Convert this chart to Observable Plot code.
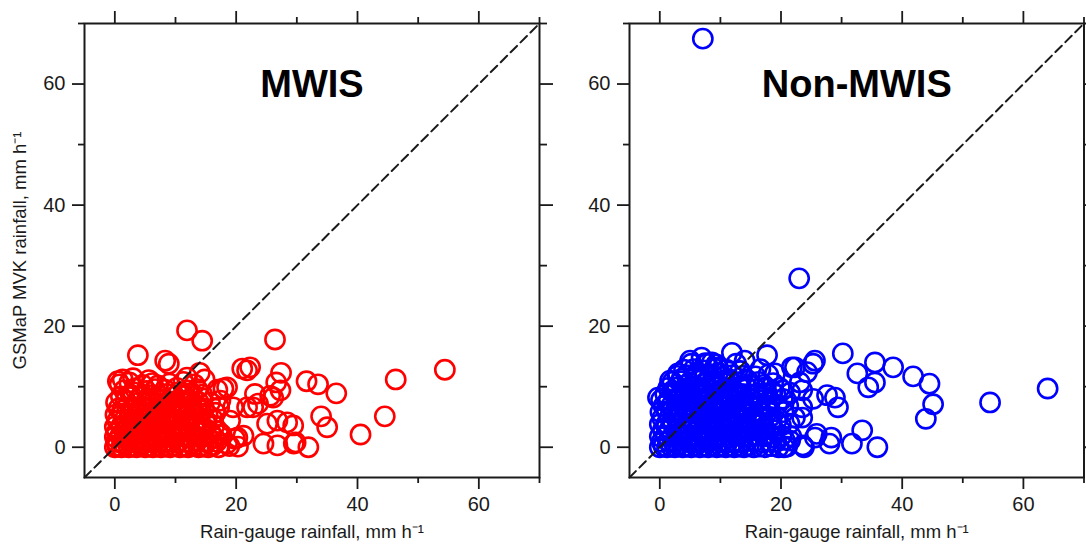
<!DOCTYPE html>
<html>
<head>
<meta charset="utf-8">
<script src="https://cdn.jsdelivr.net/npm/d3@7"></script>
<script src="https://cdn.jsdelivr.net/npm/@observablehq/plot@0.6"></script>
<style>
  html, body { margin: 0; padding: 0; background: #fff; }
  #wrap { display: flex; width: 1086px; height: 550px; overflow: hidden; }
</style>
</head>
<body>
<div id="wrap"></div>
<script>
// Axis limits and ticks
const axisLimits = [-5, 70];
const majorTicks = [0, 20, 40, 60];
const minorTicks = [10, 30, 50, 70];

const panelTitles = ["MWIS", "Non-MWIS"];
const xLabel = "Rain-gauge rainfall, mm h\u207B\u00B9";
const yLabel = "GSMaP MVK rainfall, mm h\u207B\u00B9";

// MWIS: [rain-gauge, GSMaP]
const mwis = [
  [11.9,19.3],[14.4,17.6],[3.8,15.2],[8.3,14.3],[8.9,13.8],[26.4,17.8],[46.3,11.2],[54.4,12.8],
  [44.5,5.1],[40.5,2.1],[36.5,8.9],[33.5,10.4],[31.6,10.9],[34.0,5.1],[35.0,3.3],[31.9,0.0],
  [29.5,0.6],[27.4,12.3],[26.6,10.7],[26.1,8.2],[21.8,12.7],[22.3,13.2],[22.8,6.6],[23.6,7.2],
  [25.1,3.9],[26.8,4.4],[28.4,4.1],[29.4,3.6],[24.5,0.6],[26.8,0.3],[29.8,0.8],[19.8,1.4],
  [21.2,1.9],[18.5,9.9],[19.5,6.6],[17.4,7.7],[27.3,9.4],[25.6,8.5],[17.9,9.7],[21.0,13.0],
  [23.1,8.8],[21.8,6.6],[20.2,1.6],[18.5,0.6],[19.0,4.4],
  [0,0],[0.4,0.2],[1.1,0],[1.7,0.3],[2.3,0],[3,0.1],[3.6,0],[4.3,0.2],[5,0],[5.6,0.1],[6.3,0],[7,0.3],
  [7.6,0],[8.4,0.1],[9.1,0],[9.9,0.2],[10.7,0],[11.4,0.1],[12.1,0],[12.9,0.2],[13.8,0],[14.6,0.1],
  [15.4,0],[16.2,0.3],[17.1,0],[18.9,0.2],[20.3,0.1],
  [0.2,0.9],[1.2,0.7],[2.3,1],[3.2,0.8],[4.2,0.6],[5.1,1.1],[6.4,0.8],[7.3,0.9],[8.1,0.7],[9.4,1],
  [10.5,0.8],[11.8,0.9],[12.7,0.6],[13.6,1.1],[15.1,0.8],[16.8,0.9],
  [0,1.7],[0.9,1.9],[1.8,1.6],[2.7,1.8],[3.8,1.5],[4.6,2],[5.8,1.7],[6.7,1.6],[7.6,1.9],[8.7,1.7],
  [9.8,1.5],[11,1.8],[12,1.7],[13.1,2],[14.2,1.6],[15.3,1.8],[16.5,1.5],[17.6,2.1],
  [0.3,2.5],[1.5,2.7],[2.4,2.4],[3.4,2.8],[4.4,2.6],[5.3,2.5],[6.2,2.9],[7.3,2.6],[8.4,2.4],[9.5,2.7],
  [10.4,2.6],[11.4,2.8],[12.5,2.5],[13.4,2.6],[14.6,2.9],[15.8,2.4],[17,2.7],
  [0,3.4],[1.1,3.6],[2.2,3.3],[3.1,3.7],[4.2,3.5],[5.4,3.4],[6.5,3.6],[7.6,3.3],[8.6,3.7],[9.7,3.5],
  [10.9,3.4],[12.2,3.6],[13.3,3.5],[14.3,3.3],[15.1,3.8],[16.4,3.5],
  [0.4,4.4],[1.6,4.6],[2.9,4.3],[4,4.7],[5,4.5],[6.1,4.4],[7.1,4.6],[8.1,4.3],[9.3,4.8],[10.5,4.5],
  [11.6,4.4],[12.6,4.7],[13.8,4.5],[15,4.3],[16.2,4.6],
  [0.1,5.4],[1.3,5.6],[2.5,5.3],[3.7,5.7],[4.8,5.5],[5.9,5.4],[7,5.7],[8.3,5.3],[9.4,5.6],[10.4,5.5],
  [11.5,5.8],[12.8,5.4],[13.9,5.6],[15.3,5.3],[16.6,5.7],
  [0.6,6.4],[2,6.6],[3.2,6.3],[4.6,6.7],[5.6,6.5],[6.8,6.4],[7.9,6.8],[9,6.5],[10.2,6.3],[11.3,6.6],
  [12.4,6.5],[13.6,6.8],[14.7,6.4],[17.2,6.6],
  [0.2,7.4],[1.8,7.7],[3.5,7.3],[5.2,7.6],[6.3,7.5],[7.5,7.8],[8.8,7.4],[10,7.6],[11.2,7.3],[12.6,7.7],
  [13.8,7.5],[15.7,7.4],
  [1,8.4],[2.6,8.7],[4.3,8.3],[6,8.6],[7.4,8.5],[8.6,8.8],[9.9,8.4],[11.4,8.6],[12.8,8.3],[14.4,8.7],
  [1.5,9.4],[3.3,9.7],[5.2,9.3],[6.6,9.6],[8.3,9.5],[10.2,9.8],[12,9.4],[13.6,9.6],[16.9,9.5],
  [0.8,10.4],[2.4,10.7],[4.6,10.3],[6.2,10.6],[9,10.5],[11.3,10.8],[13.1,10.4],
  [1.3,11.2],[3,11.4],[5.6,11.1],[11.9,11.5],[14,12.3],[14.8,11.2],
  [2,3.1],[6.8,1.2],[9,2.2],[11,3],[4,6.1],[7.2,6.2],[10.3,7.1],[13.1,4.1],[3,9.1],[7.1,10.2],
  [10.6,9.1],[1.2,6.1],[0.5,10.9],[5.5,8.1],[12.2,8.9],[8.2,4.9],[14.2,6.1],[3.6,2.1],[11.7,5.1]
];

// Non-MWIS: [rain-gauge, GSMaP]
const nonMwis = [
  [7.1,67.5],[23.0,27.9],[64.0,9.7],[54.5,7.4],[45.1,7.1],[43.9,4.7],[44.5,10.5],[41.8,11.7],
  [38.5,13.2],[35.5,14.0],[32.6,12.2],[30.2,15.5],[35.5,10.7],[34.4,9.9],[35.9,0.0],[31.7,0.6],
  [33.4,2.8],[28.0,0.6],[28.3,1.6],[29.4,6.6],[28.9,8.2],[27.6,8.6],[25.3,13.8],[25.6,14.3],
  [24.3,12.4],[23.8,0.0],[25.6,1.6],[25.9,2.2],[23.6,0.3],[22.3,13.2],[6.9,14.8],[11.9,15.6],
  [17.7,15.2],[14.0,14.3],[8.6,14.0],[7.8,13.8],[5.0,14.3],[9.6,13.2],[21.8,13.2],[19.0,12.2],
  [20.2,9.4],[23.5,9.4],[23.5,6.6],[1.7,11.0],[-0.3,8.2],[3.0,12.2],[23.1,10.7],[25.3,8.0],
  [23.5,4.9],[21.5,1.1],[20.5,0.0],
  [0,0],[0.6,0.2],[1.2,0],[1.9,0.1],[2.5,0],[3.1,0.3],[3.8,0],[4.5,0.1],[5.2,0],[5.9,0.2],[6.6,0],
  [7.3,0.1],[8,0],[8.7,0.3],[9.4,0],[10.1,0.1],[10.9,0],[11.6,0.2],[12.3,0],[13.1,0.1],[13.9,0],
  [14.7,0.3],[15.5,0],[16.4,0.1],[17.3,0],[18.4,0.2],[19.6,0],[21,0.1],
  [0.3,0.9],[1.4,1],[2.4,0.8],[3.5,1.1],[4.6,0.9],[5.7,0.8],[6.8,1],[7.9,0.9],[9,1.1],[10.1,0.8],
  [11.2,0.9],[12.3,1],[13.4,0.8],[14.5,1.1],[15.6,0.9],[16.8,0.8],[18,1],[19.2,0.9],[20.6,1.2],
  [0,1.8],[1,1.9],[2,1.7],[3,2],[4.1,1.8],[5.1,1.6],[6.2,1.9],[7.2,1.8],[8.3,1.7],[9.4,2],[10.4,1.8],
  [11.5,1.6],[12.6,1.9],[13.7,1.8],[14.9,1.7],[16,2],[17.3,1.8],[18.6,1.6],[20.1,1.9],[21.7,1.8],
  [0.5,2.8],[1.6,2.9],[2.7,2.7],[3.8,3],[4.9,2.8],[6,2.6],[7.1,2.9],[8.2,2.8],[9.3,2.7],[10.3,3],
  [11.4,2.8],[12.5,2.6],[13.6,2.9],[14.8,2.8],[16.1,2.7],[17.4,3],[18.9,2.8],
  [0,3.8],[1.1,3.9],[2.2,3.7],[3.3,4],[4.4,3.8],[5.5,3.6],[6.6,3.9],[7.7,3.8],[8.8,3.7],[9.9,4],
  [11,3.8],[12.1,3.6],[13.2,3.9],[14.4,3.8],[15.7,3.7],[17,4],[18.4,3.8],[20,3.6],[21.4,3.9],
  [0.4,4.8],[1.6,4.9],[2.8,4.7],[3.9,5],[5,4.8],[6.2,4.6],[7.3,4.9],[8.4,4.8],[9.6,4.7],[10.7,5],
  [11.8,4.8],[13,4.6],[14.2,4.9],[15.5,4.8],[16.8,4.7],[18.2,5],[19.5,4.8],[22.3,4.9],
  [0.1,5.8],[1.2,5.9],[2.4,5.7],[3.6,6],[4.7,5.8],[5.9,5.6],[7,5.9],[8.2,5.8],[9.3,5.7],[10.5,6],
  [11.6,5.8],[12.8,5.6],[14,5.9],[15.3,5.8],[16.7,5.7],[18,6],[20.4,5.8],
  [0.6,6.8],[1.9,6.9],[3.1,6.7],[4.3,7],[5.5,6.8],[6.7,6.6],[7.9,6.9],[9.1,6.8],[10.3,6.7],[11.5,7],
  [12.7,6.8],[13.9,6.6],[15.1,6.9],[16.5,6.8],[17.9,6.7],[19.4,7],[21.2,6.8],
  [0.2,7.8],[1.5,7.9],[2.8,7.7],[4.1,8],[5.3,7.8],[6.5,7.6],[7.7,7.9],[8.9,7.8],[10.1,7.7],[11.3,8],
  [12.5,7.8],[13.7,7.6],[15,7.9],[16.4,7.8],[18.2,7.7],[20.3,8],
  [0.9,8.8],[2.3,8.9],[3.6,8.7],[4.9,9],[6.1,8.8],[7.4,8.6],[8.6,8.9],[9.8,8.8],[11,8.7],[12.3,9],
  [13.5,8.8],[14.8,8.6],[16.2,8.9],[17.7,8.8],[19.1,8.7],[21.5,9],
  [1.4,9.8],[2.9,9.9],[4.2,9.7],[5.5,10],[6.8,9.8],[8,9.6],[9.3,9.9],[10.6,9.8],[11.8,9.7],[13.1,10],
  [14.4,9.8],[15.9,9.6],[17.5,9.9],[19.8,9.8],
  [2.1,10.8],[3.5,10.9],[4.9,10.7],[6.2,11],[7.6,10.8],[8.9,10.6],[10.3,10.9],[11.6,10.8],[13,10.7],
  [14.6,11],[16.3,10.8],[18.7,10.6],
  [2.9,11.8],[4.4,11.9],[5.9,11.7],[7.3,12],[8.8,11.8],[10.4,11.6],[12,11.9],[13.7,11.8],[15.8,11.7],
  [17.9,12],
  [4,12.8],[5.6,12.9],[7.2,12.7],[9,13],[11,12.8],[13.3,12.6],[16.6,12.9],
  [5.2,13.8],[7.5,13.9],[9.3,13.7],[12.6,13.8],
  [1.1,3.3],[3.4,2.3],[5.6,3.2],[7.8,2.2],[9.9,3.4],[12,2.3],[14.2,3.3],[2.3,5.3],[4.5,6.4],[6.8,5.2],
  [8.9,6.3],[11.1,5.3],[13.4,6.2],[15.6,5.2],[1.2,7.3],[3.4,8.3],[5.8,7.2],[8.1,8.3],[10.4,7.2],
  [12.8,8.3],[14.9,7.3],[2.1,9.3],[4.5,10.3],[7,9.3],[9.5,10.4],[12.1,9.3],[14.8,10.3],[6.1,12.3],
  [9.6,12.3],[11.5,11.2],[3.6,11.3],[16.9,8.2],[17.1,10.3],[16,4.3],[17.6,6.3],[18.6,9.2]
];

const FONT = "'Liberation Sans', Arial, Helvetica, sans-serif";
const INK = "#1a1a1a";

function panel({data, color, title, width, marginLeft, marginRight, showYLabel}) {
  const marks = [
    Plot.dot(data, {x: d => d[0], y: d => d[1], r: 9.6, stroke: color, strokeWidth: 2.6, fill: "none"}),
    Plot.line(axisLimits, {x: d => d, y: d => d, stroke: INK, strokeWidth: 2, strokeDasharray: "9,5"}),
    Plot.frame({stroke: INK, strokeWidth: 2}),
    // bottom
    Plot.axisX(majorTicks, {anchor: "bottom", tickSize: 12, tickPadding: 7, fontSize: 20, fill: INK, stroke: INK, strokeWidth: 1.8, label: null}),
    Plot.axisX(minorTicks, {anchor: "bottom", tickSize: 6, tickFormat: () => "", stroke: INK, strokeWidth: 1.8, label: null}),
    // top
    Plot.axisX(majorTicks, {anchor: "top", tickSize: 13, tickFormat: () => "", stroke: INK, strokeWidth: 1.8, label: null}),
    Plot.axisX(minorTicks, {anchor: "top", tickSize: 7, tickFormat: () => "", stroke: INK, strokeWidth: 1.8, label: null}),
    // left
    Plot.axisY(majorTicks, {anchor: "left", tickSize: 12, tickPadding: 7, fontSize: 20, fill: INK, stroke: INK, strokeWidth: 1.8, label: null}),
    Plot.axisY(minorTicks, {anchor: "left", tickSize: 6, tickFormat: () => "", stroke: INK, strokeWidth: 1.8, label: null}),
    // right
    Plot.axisY(majorTicks, {anchor: "right", tickSize: 13, tickFormat: () => "", stroke: INK, strokeWidth: 1.8, label: null}),
    Plot.axisY(minorTicks, {anchor: "right", tickSize: 7, tickFormat: () => "", stroke: INK, strokeWidth: 1.8, label: null}),
    Plot.text([title], {text: d => d, frameAnchor: "top", dy: 61, lineAnchor: "middle", fontSize: 38, fontWeight: "bold", fill: "#000"}),
    Plot.text([xLabel], {text: d => d, frameAnchor: "bottom", dy: 55, lineAnchor: "middle", textAnchor: "middle", fontSize: 18.5, fill: INK})
  ];
  if (showYLabel) {
    marks.push(Plot.text([yLabel], {text: d => d, frameAnchor: "left", dx: -64, rotate: -90, lineAnchor: "middle", textAnchor: "middle", fontSize: 18.5, fill: INK}));
  }
  return Plot.plot({
    width, height: 550,
    marginTop: 23, marginBottom: 73, marginLeft, marginRight,
    style: {overflow: "visible", fontFamily: FONT, background: "transparent", maxWidth: "none"},
    x: {domain: axisLimits},
    y: {domain: axisLimits},
    marks
  });
}

const wrap = document.getElementById("wrap");
wrap.appendChild(panel({data: mwis, color: "#ff0000", title: panelTitles[0], width: 560, marginLeft: 84, marginRight: 21, showYLabel: true}));
wrap.appendChild(panel({data: nonMwis, color: "#0000ff", title: panelTitles[1], width: 526, marginLeft: 69, marginRight: 2.5, showYLabel: false}));
</script>
</body>
</html>
